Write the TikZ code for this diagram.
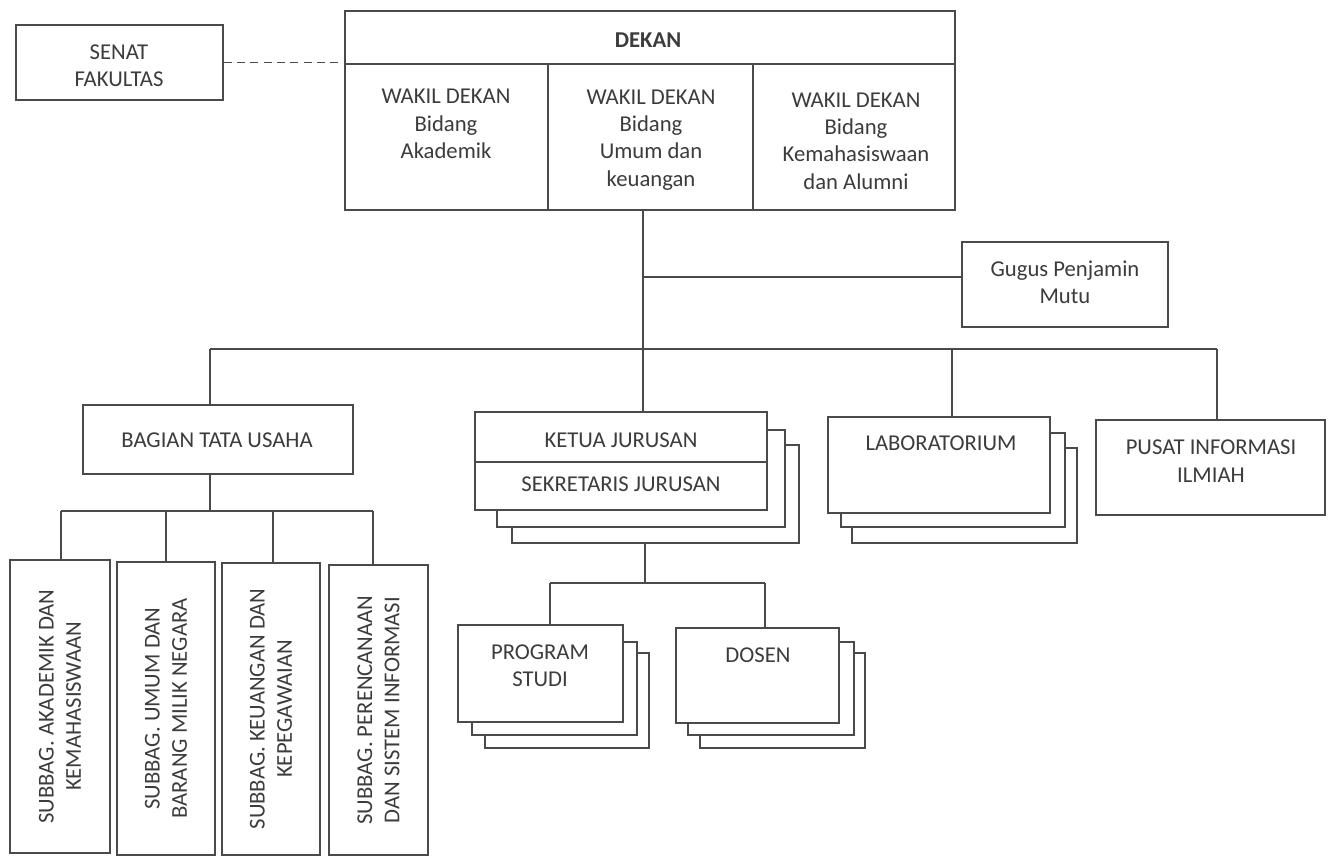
\documentclass[tikz,border=0pt]{standalone}
\usepackage{fontspec}
\setmainfont{Carlito}
\usetikzlibrary{fit}
\definecolor{ink}{HTML}{3C3C3C}
\definecolor{edge}{HTML}{4A4A4A}
\begin{document}
\begin{tikzpicture}[x=0.75pt,y=-0.75pt,
  bx/.style={draw=edge,line width=1.2pt,fill=white,inner sep=0pt},
  ln/.style={draw=edge,line width=1.2pt},
  txt/.style={text=ink,align=center,inner sep=0pt,font=\fontsize{17}{20.5}\selectfont},
  vtxt/.style={txt,rotate=90}]
\useasboundingbox (0,0) rectangle (1332,857);
% Senat
\node[bx,fit={(16,25)(223,100)}] (senat) {};
\node[txt] (tsenat) at (119,66) {SENAT\\FAKULTAS};
% Dekan block
\node[bx,fit={(345,11)(955,64)}] (dekan) {};
\node[bx,fit={(345,64)(548,210)}] (wd1) {};
\node[bx,fit={(548,64)(753,210)}] (wd2) {};
\node[bx,fit={(753,64)(955,210)}] (wd3) {};
\node[txt,font=\fontsize{17}{20.5}\selectfont\bfseries] (tdekan) at (648,40) {DEKAN};
\node[txt] (tw1) at (446,124) {WAKIL DEKAN\\Bidang\\Akademik};
\node[txt] (tw2) at (651,140) {WAKIL DEKAN\\Bidang\\Umum dan\\keuangan};
\node[txt] (tw3) at (856,141) {WAKIL DEKAN\\Bidang\\Kemahasiswaan\\dan Alumni};
\draw[ln,dashed,dash pattern=on 6pt off 4pt] (senat.east) -- (senat.east -| wd1.west);
% Gugus
\node[bx,fit={(962,242)(1168,327)}] (gugus) {};
\node[txt] (tgugus) at (1065,282) {Gugus Penjamin\\Mutu};
% Level 2 boxes
\node[bx,fit={(83,405)(353,474)}] (bagian) {};
\node[txt] (tbagian) at (217,440) {BAGIAN TATA USAHA};
\node[bx,fit={(512,445)(799,543)}] (kj3) {};
\node[bx,fit={(497,430)(785,527)}] (kj2) {};
\node[bx,fit={(475,412)(767,462)}] (kjtop) {};
\node[bx,fit={(475,462)(767,510)}] (kjbot) {};
\node[txt] (tkj) at (621,440) {KETUA JURUSAN};
\node[txt] (tsj) at (621,484) {SEKRETARIS JURUSAN};
\node[bx,fit={(852,448)(1077,543)}] (lab3) {};
\node[bx,fit={(841,433)(1065,527)}] (lab2) {};
\node[bx,fit={(828,417)(1050,513)}] (lab) {};
\node[txt] (tlab) at (941,443) {LABORATORIUM};
\node[bx,fit={(1096,420)(1325,515)}] (pusat) {};
\node[txt] (tpusat) at (1211,461) {PUSAT INFORMASI\\ILMIAH};
% Program studi & dosen
\node[bx,fit={(485,653)(649,748)}] (ps3) {};
\node[bx,fit={(472,642)(637,735)}] (ps2) {};
\node[bx,fit={(458,625)(623,722)}] (ps) {};
\node[txt] (tps) at (540,666) {PROGRAM\\STUDI};
\node[bx,fit={(700,653)(865,748)}] (ds3) {};
\node[bx,fit={(688,642)(854,735)}] (ds2) {};
\node[bx,fit={(676,628)(839,723)}] (ds) {};
\node[txt] (tds) at (758,655) {DOSEN};
% Subbag boxes
\node[bx,fit={(10,560)(110,853)}] (sb1) {};
\node[bx,fit={(117,562)(215,855)}] (sb2) {};
\node[bx,fit={(222,563)(320,855)}] (sb3) {};
\node[bx,fit={(329,565)(428,855)}] (sb4) {};
\node[vtxt] (tsb1) at (sb1.center) {SUBBAG. AKADEMIK DAN\\KEMAHASISWAAN};
\node[vtxt] (tsb2) at (sb2.center) {SUBBAG. UMUM DAN\\BARANG MILIK NEGARA};
\node[vtxt] (tsb3) at (sb3.center) {SUBBAG. KEUANGAN DAN\\KEPEGAWAIAN};
\node[vtxt] (tsb4) at (sb4.center) {SUBBAG. PERENCANAAN\\DAN SISTEM INFORMASI};
% Connector coordinates
\coordinate (cg) at (643,277);
\coordinate (cm) at (643,349);
\coordinate (cl) at (210,349);
\coordinate (clab) at (952,349);
\coordinate (cr) at (1217,349);
\coordinate (cs) at (210,511);
\coordinate (cs1) at (61,511);
\coordinate (cs2) at (166,511);
\coordinate (cs3) at (273,511);
\coordinate (cs4) at (373,511);
\coordinate (cp) at (645,583);
\coordinate (cp1) at (550,583);
\coordinate (cp2) at (765,583);
% Connectors
\draw[ln] (wd2.south -| cm) -- (cm);
\draw[ln] (cg) -- (cg -| gugus.west);
\draw[ln] (cl) -- (cr);
\draw[ln] (cl) -- (bagian.north -| cl);
\draw[ln] (cm) -- (kjtop.north -| cm);
\draw[ln] (clab) -- (lab.north -| clab);
\draw[ln] (cr) -- (pusat.north -| cr);
\draw[ln] (bagian.south -| cs) -- (cs);
\draw[ln] (cs1) -- (cs4);
\draw[ln] (cs1) -- (sb1.north -| cs1);
\draw[ln] (cs2) -- (sb2.north -| cs2);
\draw[ln] (cs3) -- (sb3.north -| cs3);
\draw[ln] (cs4) -- (sb4.north -| cs4);
\draw[ln] (kj3.south -| cp) -- (cp);
\draw[ln] (cp1) -- (cp2);
\draw[ln] (cp1) -- (ps.north -| cp1);
\draw[ln] (cp2) -- (ds.north -| cp2);
\end{tikzpicture}
\end{document}
